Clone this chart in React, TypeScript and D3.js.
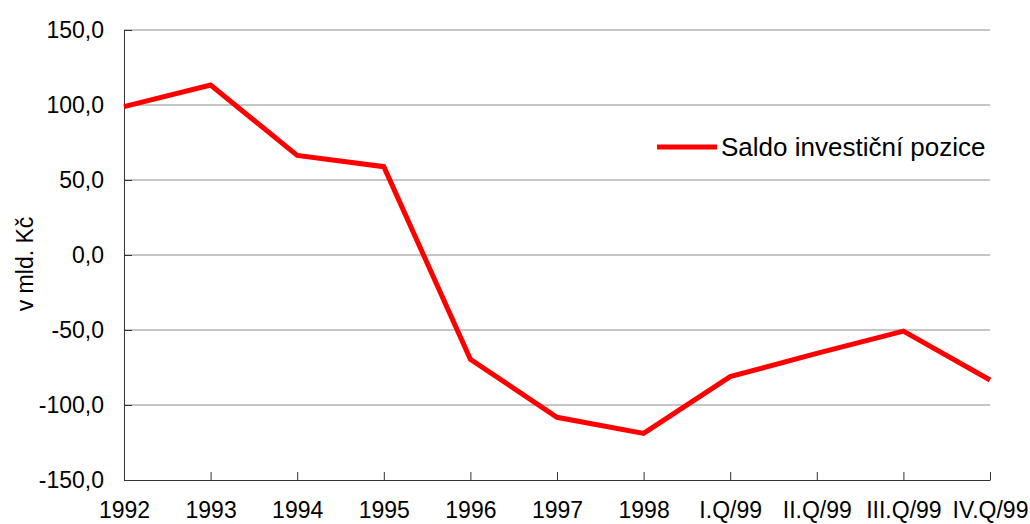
import React, { useEffect, useRef } from 'react';
import * as d3 from 'd3';

// categories and values
const categories = ['1992', '1993', '1994', '1995', '1996', '1997', '1998', 'I.Q/99', 'II.Q/99', 'III.Q/99', 'IV.Q/99'];
const saldo = [98.9, 113.3, 66.4, 58.9, -69.5, -108.2, -118.9, -81.1, -65.6, -50.7, -83.3];
const yTicks = [-150, -100, -50, 0, 50, 100, 150];
const seriesName = 'Saldo investiční pozice';
const yLabel = 'v mld. Kč';

const W = 1030, H = 524;
const margin = { top: 30, right: 40, bottom: 44, left: 124 };

export default function App() {
  const ref = useRef<SVGSVGElement>(null);

  useEffect(() => {
    const svg = d3.select(ref.current);
    svg.selectAll('*').remove();

    const x = d3.scalePoint<string>()
      .domain(categories)
      .range([margin.left, W - margin.right]);
    const y = d3.scaleLinear()
      .domain([-150, 150])
      .range([H - margin.bottom, margin.top]);

    const font = 'Arial, "Liberation Sans", sans-serif';

    // grid
    svg.append('g')
      .selectAll('line')
      .data(yTicks.filter(d => d !== -150))
      .join('line')
      .attr('x1', margin.left).attr('x2', W - margin.right)
      .attr('y1', d => y(d)).attr('y2', d => y(d))
      .attr('stroke', '#8c8c8c').attr('stroke-width', 1);

    // y axis (czech decimal comma, plain hyphen for minus)
    const ya = svg.append('g').attr('transform', `translate(${margin.left},0)`)
      .call(d3.axisLeft(y).tickValues(yTicks).tickSize(-8).tickPadding(20)
        .tickFormat(d => (d as number).toFixed(1).replace('.', ',')));
    ya.select('.domain').attr('stroke', '#333');
    ya.selectAll('.tick line').attr('stroke', '#333');
    ya.selectAll('text').attr('font-family', font).attr('font-size', 23).attr('fill', '#000');

    // x axis
    const xa = svg.append('g').attr('transform', `translate(0,${H - margin.bottom})`)
      .call(d3.axisBottom(x).tickSize(-8).tickPadding(22).tickSizeOuter(0));
    xa.select('.domain').attr('stroke', '#333');
    xa.selectAll('.tick line').attr('stroke', '#333');
    xa.selectAll('text').attr('font-family', font).attr('font-size', 23).attr('fill', '#000');

    // y label
    svg.append('text')
      .attr('transform', `translate(33,${y(0) + 9}) rotate(-90)`)
      .attr('text-anchor', 'middle')
      .attr('font-family', font).attr('font-size', 23)
      .text(yLabel);

    // series
    const line = d3.line<number>()
      .x((_, i) => x(categories[i])!)
      .y(d => y(d));
    svg.append('path')
      .datum(saldo)
      .attr('d', line)
      .attr('fill', 'none')
      .attr('stroke', '#ff0000')
      .attr('stroke-width', 5)
      .attr('stroke-linejoin', 'miter');

    // legend
    const lg = svg.append('g').attr('transform', 'translate(657,147)');
    lg.append('line').attr('x1', 0).attr('x2', 60).attr('stroke', '#ff0000').attr('stroke-width', 5);
    lg.append('text').attr('x', 64).attr('y', 9)
      .attr('font-family', font).attr('font-size', 26)
      .text(seriesName);
  }, []);

  return (
    <div style={{ position: 'absolute', left: 0, top: 0 }}>
      <svg ref={ref} width={W} height={H} style={{ display: 'block', background: '#fff' }} />
    </div>
  );
}
